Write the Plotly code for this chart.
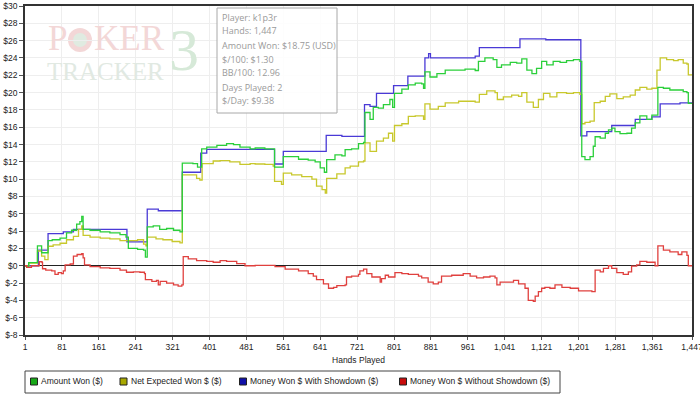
import plotly.graph_objects as go

# ---------------- data ----------------
series_names = ["Amount Won ($)", "Net Expected Won $ ($)",
                "Money Won $ With Showdown ($)", "Money Won $ Without Showdown ($)"]

hands_amount = [1, 5, 9, 28, 37, 51, 60, 77, 91, 102, 113, 120, 124, 127, 142, 164, 185, 207, 220,
                225, 245, 258, 262, 266, 279, 293, 308, 323, 337, 342, 365, 375, 384, 395, 417, 438,
                453, 467, 489, 500, 521, 542, 561, 594, 615, 630, 641, 650, 655, 673, 688, 695, 709,
                724, 735, 738, 749, 756, 767, 778, 792, 798, 802, 818, 832, 847, 861, 865, 868, 879,
                894, 912, 933, 955, 977, 984, 998, 1016, 1024, 1034, 1053, 1067, 1078, 1089, 1100,
                1110, 1121, 1132, 1146, 1161, 1175, 1190, 1204, 1208, 1215, 1226, 1233, 1237, 1248,
                1259, 1266, 1273, 1280, 1291, 1306, 1316, 1324, 1334, 1349, 1360, 1373, 1385, 1399,
                1417, 1428, 1436, 1439, 1447]
amount_won = [0, -0.2, 0.35, 2.3, 1.5, 2.9, 3.0, 3.2, 3.8, 4.1, 4.8, 5.1, 5.7, 4.2, 4.1, 3.9, 3.8, 3.6, 3.3,
              2.0, 1.9, 1.8, 1.0, 4.5, 4.6, 4.2, 4.3, 4.1, 3.9, 11.85, 11.8, 11.4, 13.5, 13.7, 13.9, 14.1,
              14.0, 13.7, 13.5, 13.6, 13.5, 11.4, 12.6, 12.3, 12.2, 12.0, 11.3, 10.8, 12.25, 12.8, 12.7, 13.4, 13.5,
              14.1, 14.25, 17.7, 16.9, 18.3, 18.2, 18.6, 19.2, 18.3, 19.9, 20.4, 20.9, 21.1, 21.0, 20.5, 22.4, 21.8,
              22.2, 22.6, 22.6, 22.7, 22.55, 23.6, 24.0, 23.8, 22.9, 23.2, 23.5, 23.4, 23.9, 22.6, 22.2,
              22.8, 23.6, 23.2, 23.6, 23.5, 23.7, 23.8, 23.6, 12.6, 12.25, 12.6, 13.8, 14.9, 14.75,
              15.3, 15.7, 15.9, 15.5, 15.25, 15.3, 15.9, 16.5, 17.3, 16.9, 17.4, 20.6, 20.5, 20.3,
              20.3, 20.1, 20.0, 18.75, 18.75]

hands_expected = [1, 5, 9, 28, 37, 44, 51, 62, 77, 91, 106, 117, 124, 127, 142, 164, 185, 207, 225, 245,
                  258, 263, 266, 285, 300, 320, 337, 342, 373, 380, 385, 409, 424, 445, 467, 489, 500, 521,
                  539, 542, 557, 561, 579, 601, 623, 633, 645, 652, 655, 677, 695, 706, 724, 735, 738, 749,
                  763, 778, 789, 798, 802, 818, 832, 847, 865, 868, 879, 897, 912, 941, 966, 977, 986,
                  1002, 1020, 1025, 1038, 1056, 1071, 1078, 1089, 1103, 1114, 1125, 1139, 1154, 1175,
                  1190, 1204, 1208, 1215, 1226, 1235, 1248, 1259, 1269, 1284, 1298, 1313, 1324, 1334,
                  1349, 1360, 1371, 1378, 1392, 1407, 1417, 1428, 1436, 1439, 1447]
expected_won = [0, -0.2, 0.3, 1.7, 1.1, 0.7, 2.25, 2.4, 2.6, 3.0, 3.4, 4.2, 4.6, 3.5, 3.3, 3.2, 3.1, 2.9, 2.9, 3.0,
                2.5, 2.3, 3.3, 3.1, 3.0, 2.8, 2.65, 10.5, 10.1, 9.9, 11.8, 12.1, 12.15, 12.0, 11.7, 11.8, 11.75, 11.7,
                11.5, 9.75, 9.4, 10.7, 10.5, 10.3, 10.0, 9.2, 8.8, 8.4, 10.1, 10.6, 11.3, 11.5, 12.0, 12.1, 14.2, 13.2,
                14.4, 14.75, 15.3, 14.4, 16.2, 16.4, 17.25, 17.3, 16.9, 18.7, 18.1, 18.4, 18.8, 19.0, 19.0, 18.9, 19.8,
                20.2, 20.0, 19.2, 19.5, 19.7, 19.55, 20.0, 18.9, 18.3, 19.2, 19.9, 19.5, 20.0, 19.9,
                20.0, 19.8, 16.4, 16.55, 16.7, 18.85, 19.0, 19.55, 19.85, 19.3, 19.5, 19.7, 20.3, 20.6,
                20.4, 20.5, 22.6, 24.0, 23.8, 23.7, 23.8, 23.4, 23.3, 22.05, 22.0]

hands_showdown = [1, 30, 51, 84, 106, 222, 266, 290, 342, 382, 395, 542, 561, 654, 688, 737, 749, 763,
                  800, 831, 868, 876, 880, 977, 986, 1074, 1130, 1206, 1219, 1273, 1324, 1360, 1378,
                  1421, 1447]
showdown_won = [0, 1.8, 3.7, 3.9, 4.2, 2.75, 6.55, 6.35, 10.8, 13.0, 13.45, 11.75, 13.2, 15.05, 14.95, 18.6, 18.4,
                19.9, 20.8, 21.9, 24.0, 24.5, 24.0, 24.2, 25.2, 26.2, 26.1, 15.0, 15.5, 16.2, 16.9, 17.2, 18.7,
                18.8, 18.8]

hands_nonsd = [1, 5, 15, 32, 38, 39, 46, 59, 66, 73, 80, 84, 88, 99, 106, 114, 124, 127, 130, 142, 164,
               185, 207, 221, 236, 250, 260, 262, 276, 286, 290, 294, 308, 323, 333, 341, 344, 355, 373,
               395, 409, 424, 438, 460, 478, 500, 529, 543, 565, 594, 615, 626, 633, 648, 659, 670, 677,
               695, 698, 709, 724, 727, 735, 742, 753, 771, 774, 782, 789, 803, 818, 832, 854, 861, 875,
               886, 897, 904, 926, 941, 951, 966, 980, 995, 1009, 1020, 1024, 1031, 1045, 1060, 1071,
               1085, 1092, 1103, 1107, 1114, 1121, 1128, 1139, 1150, 1165, 1183, 1201, 1230, 1237,
               1248, 1255, 1266, 1273, 1284, 1298, 1309, 1316, 1327, 1334, 1349, 1367, 1373, 1385,
               1399, 1417, 1425, 1436, 1439, 1447]
nonsd_won = [0, -0.2, 0, 0.46, 0.35, -0.35, -0.5, -0.6, -1.0, -0.8, -0.9, -0.6, 0.1, 0.2, 1.1, 1.3, 1.4, 0.9, 0.1,
             -0.1, -0.25, -0.3, -0.5, -0.75, -0.7, -0.75, -0.9, -1.6, -1.8, -1.7, -2.2, -1.8, -2.0, -2.2, -2.35,
             -2.2, 1.05, 0.8, 0.6, 0.5, 0.4, 0.6, 0.5, 0.25, 0.0, 0.05, 0.05, -0.1, -0.4, -0.6, -0.9, -1.2, -1.6,
             -2.1, -2.6, -2.5, -2.3, -2.2, -1.3, -1.2, -1.0, -0.6, -0.4, -0.9, -1.3, -1.9, -1.5, -1.1, -1.3, -0.8,
             -0.9, -1.0, -1.2, -1.4, -1.9, -2.1, -1.9, -1.2, -1.1, -1.1, -0.9, -1.2, -1.4, -1.3, -1.2, -1.4,
             -2.2, -1.9, -1.9, -1.7, -2.1, -2.6, -4.0, -4.1, -3.5, -3.0, -2.6, -2.5, -2.6, -2.2, -2.5, -2.6,
             -2.9, -3.0, -0.5, -0.7, -0.3, 0.0, -0.3, -0.8, -1.0, -0.7, -0.05, 0.1, 0.5, 0.4, 0.0, 2.3, 1.8,
             1.6, 1.3, 1.6, 1.2, 0.0, 0.0]

x_tick_vals = [1, 81, 161, 241, 321, 401, 481, 561, 641, 721, 801, 881, 961, 1041, 1121, 1201, 1281, 1361, 1447]
x_tick_text = ["1", "81", "161", "241", "321", "401", "481", "561", "641", "721", "801", "881", "961",
               "1,041", "1,121", "1,201", "1,281", "1,361", "1,447"]
y_tick_vals = [-8, -6, -4, -2, 0, 2, 4, 6, 8, 10, 12, 14, 16, 18, 20, 22, 24, 26, 28, 30]
y_tick_text = ["$-8", "$-6", "$-4", "$-2", "$0", "$2", "$4", "$6", "$8", "$10", "$12", "$14", "$16",
               "$18", "$20", "$22", "$24", "$26", "$28", "$30"]

info_lines = ["Player: k1p3r", "Hands: 1,447", "Amount Won: $18.75 (USD)", "$/100: $1.30",
              "BB/100: 12.96", "Days Played: 2", "$/Day: $9.38"]

# ---------------- styles ----------------
line_colors = ["#2bcf3a", "#c8c82c", "#4a3ad6", "#e0403e"]
swatch_colors = ["#18a818", "#a8a800", "#1010a8", "#c80c0c"]
W, H = 700, 396
ML, MR, MT, MB = 25, 8, 6, 61
PW, PH = W - ML - MR, H - MT - MB
FONT = "Liberation Sans, Arial, sans-serif"
SERIF = "Liberation Serif, serif"


def px(p):
    return (p - ML) / PW


def py(p):
    return (H - MB - p) / PH


fig = go.Figure()
order = [2, 1, 0, 3]
xs = [hands_amount, hands_expected, hands_showdown, hands_nonsd]
ys = [amount_won, expected_won, showdown_won, nonsd_won]
for i in order:
    fig.add_trace(go.Scatter(x=xs[i], y=ys[i], mode="lines", name=series_names[i],
                             line=dict(color=line_colors[i], width=1.3, shape="hv"),
                             showlegend=False))

shapes = []
annotations = []

# watermark
annotations.append(dict(x=px(46), y=py(38), xref="paper", yref="paper", text="P", showarrow=False,
                        xanchor="left", yanchor="middle",
                        font=dict(family=SERIF, size=35, color="#f3d7d7")))
shapes.append(dict(type="circle", xref="paper", yref="paper", x0=px(68), x1=px(92), y0=py(52), y1=py(28),
                   fillcolor="#f3d7d7", line=dict(width=0), layer="below"))
shapes.append(dict(type="circle", xref="paper", yref="paper", x0=px(73), x1=px(87), y0=py(47), y1=py(33),
                   fillcolor="#e0ebe1", line=dict(width=0), layer="below"))
annotations.append(dict(x=px(92), y=py(38), xref="paper", yref="paper", text="KER", showarrow=False,
                        xanchor="left", yanchor="middle",
                        font=dict(family=SERIF, size=35, color="#f3d7d7")))
annotations.append(dict(x=px(167), y=py(50), xref="paper", yref="paper", text="3", showarrow=False,
                        xanchor="left", yanchor="middle",
                        font=dict(family=SERIF, size=60, color="#d6e9d8")))
annotations.append(dict(x=px(45), y=py(71), xref="paper", yref="paper", text="TRACKER", showarrow=False,
                        xanchor="left", yanchor="middle",
                        font=dict(family=SERIF, size=25, color="#e1e9e2")))

# info box
shapes.append(dict(type="rect", xref="paper", yref="paper", x0=px(217), x1=px(337), y0=py(113), y1=py(8),
                   fillcolor="rgba(255,255,255,0.85)", line=dict(color="#a8a8a8", width=1)))
for k, t in enumerate(info_lines):
    annotations.append(dict(x=px(220), y=py(17 + 14 * k), xref="paper", yref="paper", text=t,
                            showarrow=False, xanchor="left", yanchor="middle",
                            font=dict(family="Open Sans, DejaVu Sans, sans-serif", size=9, color="#9a9a9a")))

# custom legend
shapes.append(dict(type="rect", xref="paper", yref="paper", x0=px(25), x1=px(560), y0=py(393), y1=py(371),
                   fillcolor="white", line=dict(color="#444444", width=1)))
sw_cx = [34, 123.5, 243, 403]
tx_left = [39, 129, 248, 408]
for i in range(4):
    shapes.append(dict(type="rect", xref="paper", yref="paper", x0=px(sw_cx[i] - 3.5), x1=px(sw_cx[i] + 3.5),
                       y0=py(385), y1=py(378), fillcolor=swatch_colors[i], line=dict(color="#222222", width=1)))
    annotations.append(dict(x=px(tx_left[i]), y=py(381.5), xref="paper", yref="paper", text=series_names[i],
                            showarrow=False, xanchor="left", yanchor="middle",
                            font=dict(family=FONT, size=8.5, color="#222222")))

fig.update_layout(
    width=W, height=H,
    margin=dict(l=ML, r=MR, t=MT, b=MB, pad=0, autoexpand=False),
    paper_bgcolor="white", plot_bgcolor="white",
    shapes=shapes, annotations=annotations,
    showlegend=False,
    font=dict(family=FONT, size=8.5, color="#222222"),
)
fig.update_xaxes(range=[1, 1447], tickmode="array", tickvals=x_tick_vals, ticktext=x_tick_text,
                 automargin=False, ticklabeloverflow="allow",
                 showgrid=True, gridcolor="#eeeeee", gridwidth=1,
                 showline=True, linecolor="#333333", linewidth=1.5, mirror=True,
                 ticks="outside", ticklen=3, tickcolor="#555555", zeroline=False,
                 tickfont=dict(family=FONT, size=8.5, color="#222222"),
                 title=dict(text="Hands Played", font=dict(family=FONT, size=8.5, color="#222222"), standoff=6))
fig.update_yaxes(range=[-8, 30], tickmode="array", tickvals=y_tick_vals, ticktext=y_tick_text,
                 automargin=False, ticklabeloverflow="allow",
                 showgrid=True, gridcolor="#eeeeee", gridwidth=1,
                 showline=True, linecolor="#333333", linewidth=1.5, mirror=True,
                 ticks="outside", ticklen=4, tickcolor="#555555",
                 zeroline=True, zerolinecolor="#222222", zerolinewidth=1.2,
                 tickfont=dict(family=FONT, size=8.5, color="#222222"))

fig.write_html("out.html", config={"displayModeBar": False},
               post_script="document.body.style.margin='0';document.body.style.overflow='hidden';")
